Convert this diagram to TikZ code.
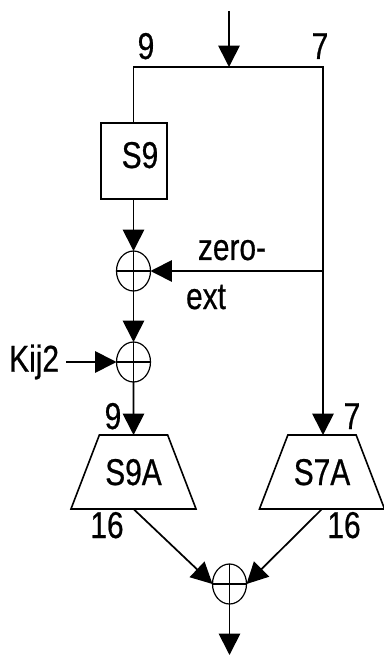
\documentclass[tikz,border=0pt]{standalone}
\usepackage{fontspec}
\setmainfont[FakeStretch=0.8,FakeBold=0.6]{Liberation Sans}
\usetikzlibrary{arrows.meta}
\usetikzlibrary{shapes.geometric}
\tikzset{
  txt/.style = {font=\fontsize{28}{30}\selectfont, inner sep=0pt, anchor=base},
  sbox/.style = {draw, line width=1.2pt, minimum width=49.5pt, minimum height=57pt, inner sep=0pt},
  xorop/.style = {draw, ellipse, line width=0.9pt, minimum width=25.5pt, minimum height=30pt, inner sep=0pt, outer sep=0pt},
  sboxa/.style = {draw, trapezium, trapezium stretches=true, trapezium angle=48, line width=1.2pt,
    minimum width=94.5pt, minimum height=55.5pt, inner sep=0pt, outer sep=0pt,
    font=\fontsize{28}{30}\selectfont, text depth=0pt},
  wire/.style = {line width=1.3pt},
  arr/.style = {wire, -{Triangle[length=16pt,width=16pt]}},
}
\begin{document}
\begin{tikzpicture}[x=0.75pt, y=-0.75pt]
  \useasboundingbox (0,0) rectangle (384,655);

  \coordinate (in) at (229,11);
  \coordinate (split) at (229,67);
  \coordinate (left) at (133.5,67);
  \coordinate (right) at (323,67);
  \coordinate (zero) at (323,271);
  \coordinate (out) at (229.5,655);

  \node[sbox] (s9) at (134,161) {};
  \node[txt] (s9txt) at (140,168) {S9};

  \node[xorop] (xa) at (133.5,271) {};
  \node[xorop] (xb) at (133.5,362) {};
  \node[xorop] (xc) at (229.5,584) {};

  \node[sboxa] (s9a) at (133.5,472) {S9A};
  \node[sboxa] (s7a) at (322,472) {S7A};

  \node[txt, anchor=east, inner sep=5pt] (kij) at (66,362) {Kij2};

  % labels
  \node[txt] (nine) at (146,59) {9};
  \node[txt] (seven) at (320,59) {7};
  \node[txt] (zeroa) at (232,260) {zero-};
  \node[txt] (zerob) at (206,309) {ext};
  \node[txt] (ninea) at (113,429) {9};
  \node[txt] (sevena) at (352,429) {7};
  \node[txt] (sixa) at (107,538) {16};
  \node[txt] (sixb) at (344,538) {16};

  % wires
  \draw[arr] (in) -- (split);
  \draw[wire] (s9.north -| left) -- (left) -- (right) -- (zero);
  \draw[arr] (s9.south -| xa) -- (xa.north);
  \draw[arr] (zero) -- (xa.east);
  \draw[arr] (xa.south) -- (xb.north);
  \draw[arr] (kij.east) -- (xb.west);
  \draw[arr] (xb.south) -- (s9a.north);
  \draw[arr] (zero) -- (zero |- s7a.north);
  \draw[arr] (s9a.south) -- (xc.west);
  \draw[arr] (s7a.south) -- (xc.east);
  \draw[arr] (xc.south) -- (out);

  \foreach \x in {xa,xb,xc} {
    \draw[line width=0.9pt] (\x.west) -- (\x.east);
    \draw[line width=0.9pt] (\x.north) -- (\x.south);
  }
\end{tikzpicture}
\end{document}
